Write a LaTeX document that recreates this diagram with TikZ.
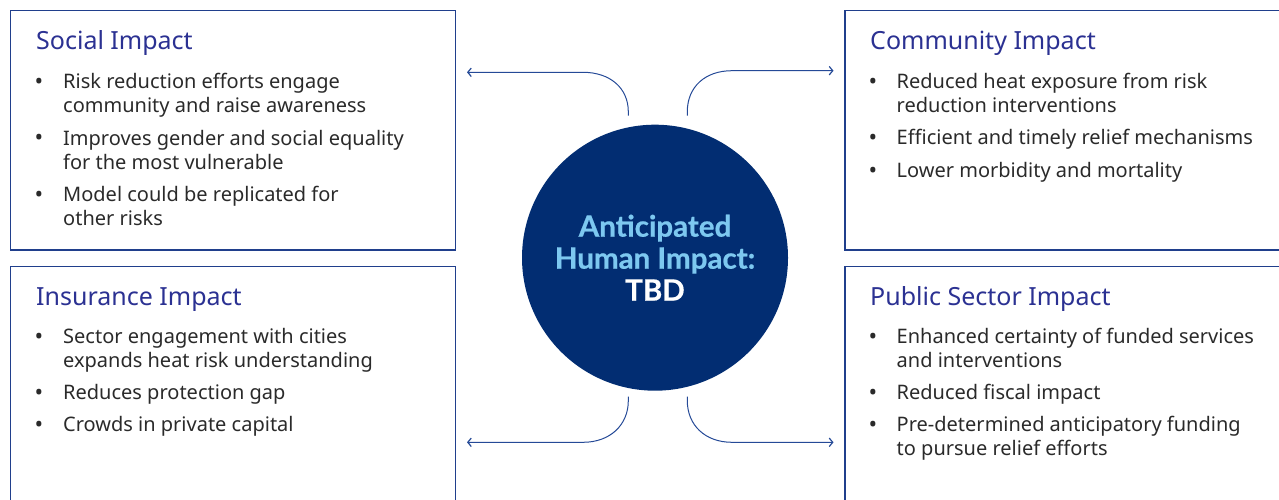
\documentclass[tikz,border=0pt]{standalone}
\usepackage{fontspec}
\setmainfont{Noto Sans}
\newfontfamily\latofont[BoldFeatures={FakeBold=0.6}]{Lato}
\usetikzlibrary{arrows.meta}
\definecolor{boxline}{HTML}{203F8C}
\definecolor{titlecol}{HTML}{2B3192}
\definecolor{bodycol}{HTML}{2A2A2A}
\definecolor{hubfill}{HTML}{022D72}
\definecolor{hubtext}{HTML}{7DC8F0}
\definecolor{arrowcol}{HTML}{254A97}
\tikzset{
  panel/.style={draw=boxline, line width=1.1pt},
  paneltitle/.style={anchor=base west, inner sep=0, text=titlecol, font=\fontsize{25}{30}\selectfont},
  itemtext/.style={anchor=base west, inner sep=0, align=left, text=bodycol, font=\fontsize{20}{24}\selectfont},
  bulletmark/.style={anchor=base, inner sep=0, text=bodycol, font=\fontsize{23}{24}\selectfont},
  link/.style={draw=arrowcol, line width=1pt, -{Straight Barb[length=3.5pt,width=8.5pt,line width=1.2pt]}},
  hub/.style={circle, fill=hubfill, minimum size=266pt, inner sep=0, align=center,
    font=\latofont\bfseries\fontsize{29.5}{32}\selectfont}
}
\begin{document}
\begin{tikzpicture}[x=1pt,y=-1pt]
\useasboundingbox (0,0) rectangle (1279,500);
\clip (0,0) rectangle (1279,500);
% panels
\draw[panel] (10.5,10.5) rectangle (455.5,250);
\draw[panel] (10.5,266.5) rectangle (455.5,520);
\draw[panel] (845,10.5) rectangle (1300,250);
\draw[panel] (845,266.5) rectangle (1300,520);

% Social Impact (two-line items: node placed at last-line baseline)
\node[paneltitle] (tSoc) at (36,49.3) {Social Impact};
\node[bulletmark] (bS1) at (39,90) {•};
\node[itemtext] (iS1) at (63,113) {Risk reduction efforts engage\\community and raise awareness};
\node[bulletmark] (bS2) at (39,146) {•};
\node[itemtext] (iS2) at (63,169) {Improves gender and social equality\\for the most vulnerable};
\node[bulletmark] (bS3) at (39,202) {•};
\node[itemtext] (iS3) at (63,225) {Model could be replicated for\\other risks};

% Insurance Impact
\node[paneltitle] (tIns) at (36,305) {Insurance Impact};
\node[bulletmark] (bI1) at (39,344.5) {•};
\node[itemtext] (iI1) at (63,367.5) {Sector engagement with cities\\expands heat risk understanding};
\node[bulletmark] (bI2) at (39,400.5) {•};
\node[itemtext] (iI2) at (63,399.5) {Reduces protection gap};
\node[bulletmark] (bI3) at (39,432.5) {•};
\node[itemtext] (iI3) at (63,431.5) {Crowds in private capital};

% Community Impact
\node[paneltitle] (tCom) at (870,49.3) {Community Impact};
\node[bulletmark] (bC1) at (873,90) {•};
\node[itemtext] (iC1) at (896.5,113) {Reduced heat exposure from risk\\reduction interventions};
\node[bulletmark] (bC2) at (873,146) {•};
\node[itemtext] (iC2) at (896.5,145) {Efficient and timely relief mechanisms};
\node[bulletmark] (bC3) at (873,178) {•};
\node[itemtext] (iC3) at (896.5,177) {Lower morbidity and mortality};

% Public Sector Impact
\node[paneltitle] (tPub) at (870,305) {Public Sector Impact};
\node[bulletmark] (bP1) at (873,344.5) {•};
\node[itemtext] (iP1) at (896.5,367.5) {Enhanced certainty of funded services\\and interventions};
\node[bulletmark] (bP2) at (873,400.5) {•};
\node[itemtext] (iP2) at (896.5,399.5) {Reduced fiscal impact};
\node[bulletmark] (bP3) at (873,432.5) {•};
\node[itemtext] (iP3) at (896.5,455.5) {Pre-determined anticipatory funding\\to pursue relief efforts};

% hub
\node[hub] (hub) at (655,257.7) {\textcolor{hubtext}{Anticipated}\\\textcolor{hubtext}{Human Impact:}\\\textcolor{white}{TBD}};

% connector ends
\coordinate (tlS) at (628.3,115.7);
\coordinate (tlE) at (467,72.3);
\coordinate (trS) at (687.3,115.7);
\coordinate (trE) at (833.5,70.7);
\coordinate (blS) at (628.3,396.7);
\coordinate (blE) at (467,442.3);
\coordinate (brS) at (687.3,396.7);
\coordinate (brE) at (833.5,442.3);

\draw[link] (tlS) -- (628.3,111.7) .. controls (628.3,88) and (610,72.3) .. (583,72.3) -- (tlE);
\draw[link] (trS) -- (687.3,111.7) .. controls (687.3,87) and (705,70.7) .. (732,70.7) -- (trE);
\draw[link] (blS) -- (628.3,400.7) .. controls (628.3,425) and (610,442.3) .. (583,442.3) -- (blE);
\draw[link] (brS) -- (687.3,400.7) .. controls (687.3,425) and (705,442.3) .. (732,442.3) -- (brE);
\end{tikzpicture}
\end{document}
